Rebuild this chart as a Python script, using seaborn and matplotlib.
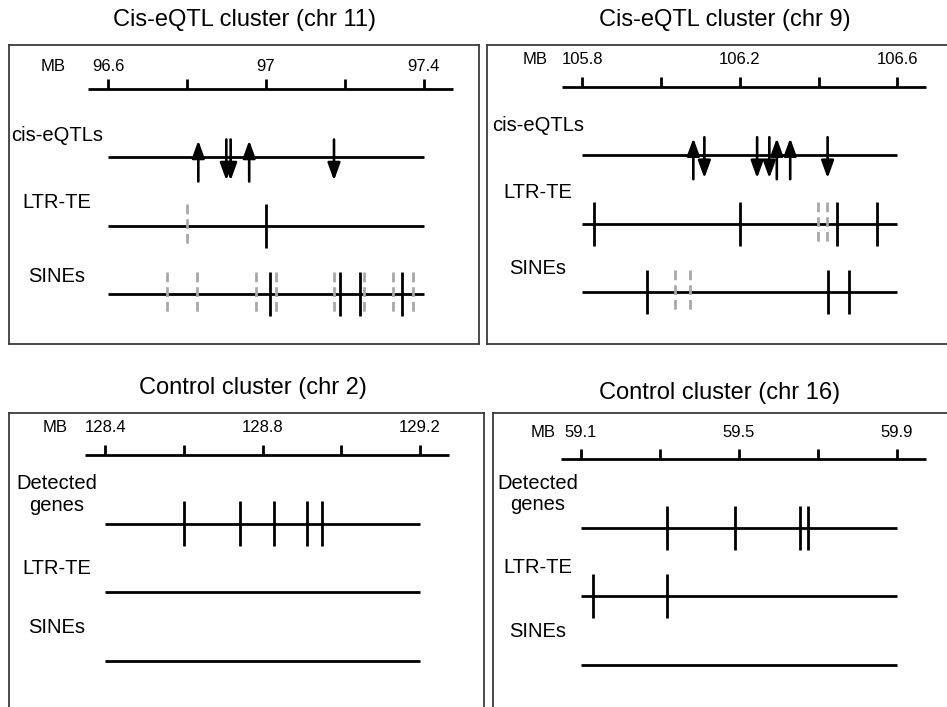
import matplotlib
matplotlib.use("Agg")
import matplotlib.pyplot as plt
import pandas as pd
import seaborn as sns

# ---------------- data (positions in MB) ----------------
titles = ["Cis-eQTL cluster (chr 11)", "Cis-eQTL cluster (chr 9)",
          "Control cluster (chr 2)", "Control cluster (chr 16)"]
axis_start = [96.6, 105.8, 128.4, 59.1]
axis_end = [97.4, 106.6, 129.2, 59.9]
tick_step = 0.2
label_step = 0.4
tick_labels = [["96.6", "97", "97.4"], ["105.8", "106.2", "106.6"],
               ["128.4", "128.8", "129.2"], ["59.1", "59.5", "59.9"]]
track_names_eqtl = ["cis-eQTLs", "LTR-TE", "SINEs"]
track_names_ctrl = ["Detected\ngenes", "LTR-TE", "SINEs"]

chr11_eqtl_up = [96.829, 96.958]
chr11_eqtl_down = [96.900, 96.911, 97.173]
chr11_ltr_solid = [97.0]
chr11_ltr_dashed = [96.8]
chr11_sine_solid = [97.010, 97.187, 97.238, 97.345]
chr11_sine_dashed = [96.750, 96.825, 96.974, 97.025, 97.173, 97.249, 97.322, 97.373]

chr9_eqtl_up = [106.082, 106.294, 106.328]
chr9_eqtl_down = [106.110, 106.244, 106.275, 106.423]
chr9_ltr_solid = [105.830, 106.200, 106.446, 106.549]
chr9_ltr_dashed = [106.398, 106.421]
chr9_sine_solid = [105.965, 106.425, 106.478]
chr9_sine_dashed = [106.035, 106.074]

chr2_genes = [128.599, 128.742, 128.829, 128.912, 128.951]
chr2_ltr = []
chr2_sine = []

chr16_genes = [59.318, 59.490, 59.655, 59.675]
chr16_ltr = [59.131, 59.318]
chr16_sine = []

panels = [
    dict(names=track_names_eqtl,
         up=[chr11_eqtl_up, [], []], down=[chr11_eqtl_down, [], []],
         solid=[[], chr11_ltr_solid, chr11_sine_solid],
         dashed=[[], chr11_ltr_dashed, chr11_sine_dashed]),
    dict(names=track_names_eqtl,
         up=[chr9_eqtl_up, [], []], down=[chr9_eqtl_down, [], []],
         solid=[[], chr9_ltr_solid, chr9_sine_solid],
         dashed=[[], chr9_ltr_dashed, chr9_sine_dashed]),
    dict(names=track_names_ctrl,
         up=[[], [], []], down=[[], [], []],
         solid=[chr2_genes, chr2_ltr, chr2_sine],
         dashed=[[], [], []]),
    dict(names=track_names_ctrl,
         up=[[], [], []], down=[[], [], []],
         solid=[chr16_genes, chr16_ltr, chr16_sine],
         dashed=[[], [], []]),
]

# ---------------- layout (pixels) ----------------
W, H = 947, 707
boxes = [(9, 45, 479, 344), (486.7, 45, 950, 344),
         (9, 413.3, 484.3, 712), (493.3, 413.3, 950, 712)]
first_tick_px = [108, 582.3, 105.3, 581]
px_per_mb = [394.4, 393.75, 393.4, 394.6]
axis_y_px = [89, 86.7, 455, 459.3]
title_pos = [(244, 20), (725, 20), (252.5, 388), (720, 393)]
label_x = [57, 538, 56.5, 538]
label_dy = [[-22, -23, -18], [-30, -31.6, -24], [-29, -24, -33], [-34, -29, -33]]
ticklabel_dy = [-22, -27, -27, -27]
mb_dx = [-55, -47, -50, -38]
row_gap = 68.5

sns.set_theme(style="white")
plt.rcParams['font.family'] = ['Liberation Sans', 'DejaVu Sans']
plt.rcParams['text.color'] = 'black'

fig = plt.figure(figsize=(W / 100, H / 100), dpi=100)
fig.patch.set_facecolor("white")

LW = 2.0
GREY = "#a8a8a8"
ARROW = "-|>,head_length=1.05,head_width=0.38"

for i, p in enumerate(panels):
    l, t, r, b = boxes[i]
    ax = fig.add_axes([l / W, 1 - b / H, (r - l) / W, (b - t) / H])
    ppm = px_per_mb[i]
    s, e = axis_start[i], axis_end[i]
    ay = axis_y_px[i]

    # track lines via seaborn
    rows = []
    for k in range(3):
        yk = row_gap * (k + 1)
        rows.append(dict(x=s, y=yk, track=k))
        rows.append(dict(x=e, y=yk, track=k))
    df = pd.DataFrame(rows)
    sns.lineplot(data=df, x="x", y="y", units="track", estimator=None,
                 color="black", lw=LW, ax=ax, legend=False,
                 solid_capstyle="butt")

    # scale axis line
    ax.plot([s - 0.051, e + 0.0735], [0, 0], color="black", lw=LW,
            solid_capstyle="butt")
    n_ticks = int(round((e - s) / tick_step)) + 1
    tick_pos = [s + j * tick_step for j in range(n_ticks)]
    ax.vlines(tick_pos, -10, 0, color="black", lw=LW)
    n_lab = int(round((e - s) / label_step)) + 1
    for j in range(n_lab):
        ax.text(s + j * label_step, ticklabel_dy[i], tick_labels[i][j],
                ha="center", va="center", fontsize=12, color="black")
    ax.annotate("MB", xy=(s, ticklabel_dy[i]), xytext=(mb_dx[i], 0),
                textcoords="offset pixels", ha="center", va="center",
                fontsize=12, color="black")

    # track contents
    for k in range(3):
        yk = row_gap * (k + 1)
        if p["dashed"][k]:
            ax.vlines(p["dashed"][k], yk - 22, yk + 22, color=GREY, lw=2.0,
                      linestyles=[(0, (3.5, 1.8))])
        if p["solid"][k]:
            ax.vlines(p["solid"][k], yk - 22, yk + 22, color="black", lw=LW)
        for x in p["up"][k]:
            ax.annotate("", xy=(x, yk - 17), xytext=(x, yk + 24),
                        arrowprops=dict(arrowstyle=ARROW, mutation_scale=10,
                                        lw=1.9, color="black",
                                        shrinkA=0, shrinkB=0))
        for x in p["down"][k]:
            ax.annotate("", xy=(x, yk + 23), xytext=(x, yk - 18),
                        arrowprops=dict(arrowstyle=ARROW, mutation_scale=10,
                                        lw=1.9, color="black",
                                        shrinkA=0, shrinkB=0))
        # track label in figure pixel coords
        fig.text(label_x[i] / W, 1 - (ay + yk + label_dy[i][k]) / H,
                 p["names"][k], ha="center", va="center", fontsize=14.5,
                 linespacing=1.15, color="black")

    ax.set_xlim(s - (first_tick_px[i] - l) / ppm, s + (r - first_tick_px[i]) / ppm)
    ax.set_ylim(b - ay, t - ay)
    ax.set_xticks([])
    ax.set_yticks([])
    ax.set_xlabel("")
    ax.set_ylabel("")
    for sp in ax.spines.values():
        sp.set_visible(True)
        sp.set_color("#3c3c3c")
        sp.set_linewidth(1.3)
    ax.set_facecolor("none")

    tx, ty = title_pos[i]
    fig.text(tx / W, 1 - ty / H, titles[i], ha="center", va="center",
             fontsize=17, color="black")

fig.savefig("out.png", dpi=100, facecolor="white")
